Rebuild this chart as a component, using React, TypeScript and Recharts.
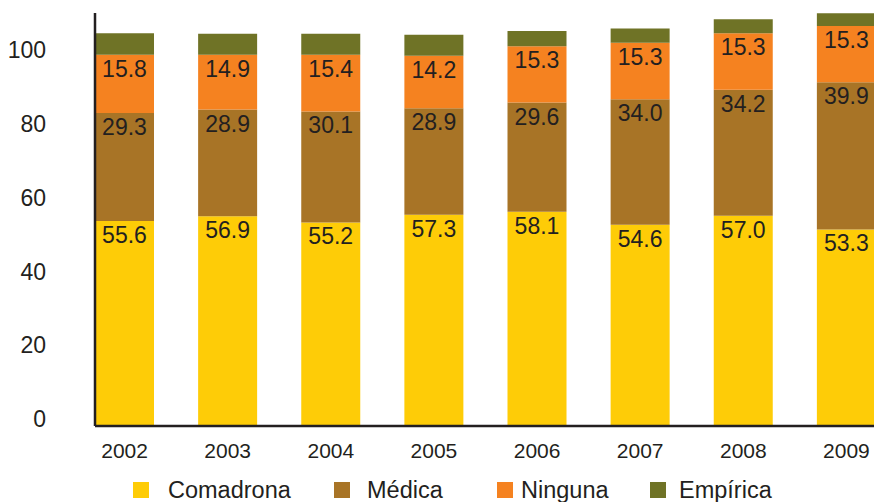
import React from 'react';
import { BarChart, Bar, XAxis, YAxis, Legend, LabelList } from 'recharts';

// Births by type of attendant, per year (%)
const years = ['2002', '2003', '2004', '2005', '2006', '2007', '2008', '2009'];
const comadrona = [55.6, 56.9, 55.2, 57.3, 58.1, 54.6, 57.0, 53.3];
const medica = [29.3, 28.9, 30.1, 28.9, 29.6, 34.0, 34.2, 39.9];
const ninguna = [15.8, 14.9, 15.4, 14.2, 15.3, 15.3, 15.3, 15.3];
const empirica = [5.8, 5.7, 5.7, 5.7, 4.1, 3.9, 3.8, 3.4];
const yTicks = [0, 20, 40, 60, 80, 100];
const seriesNames = ['Comadrona', 'Médica', 'Ninguna', 'Empírica'];

const data = years.map((year, i) => ({
  year,
  comadrona: comadrona[i],
  medica: medica[i],
  ninguna: ninguna[i],
  empirica: empirica[i],
}));

const FONT = '"Liberation Sans", Arial, Helvetica, sans-serif';
const TEXT = '#231f20';
const AXIS = '#231f20';
const COLORS = {
  comadrona: '#FECC07',
  medica: '#A87426',
  ninguna: '#F58220',
  empirica: '#6F7326',
};

// legend layout: square left edge and gap from square to text
const legendSquareX = [125, 326, 489, 642];
const legendTextGap = [35, 33, 24, 29];

const renderValue = (props: any) => {
  const { x, y, width, value } = props;
  if (value == null) return null;
  return (
    <text
      x={Number(x) + Number(width) / 2}
      y={Number(y) + 14}
      textAnchor="middle"
      dominantBaseline="central"
      fontSize={23}
      fontFamily={FONT}
      fill={TEXT}
    >
      {Number(value).toFixed(1)}
    </text>
  );
};

const YTick = (props: any) => {
  const { x, y, payload } = props;
  return (
    <text
      x={x}
      y={Number(y) - 7}
      textAnchor="end"
      dominantBaseline="central"
      fontSize={23}
      fontFamily={FONT}
      fill={TEXT}
    >
      {payload.value}
    </text>
  );
};

const XTick = (props: any) => {
  const { x, y, payload } = props;
  return (
    <text
      x={x}
      y={y}
      dy="0.71em"
      textAnchor="middle"
      fontSize={21}
      fontFamily={FONT}
      fill={TEXT}
    >
      {payload.value}
    </text>
  );
};

const LegendContent = (props: any) => {
  const payload = [...(props.payload || [])].sort(
    (a: any, b: any) => seriesNames.indexOf(a.value) - seriesNames.indexOf(b.value)
  );
  return (
    <div style={{ position: 'relative', width: 890, height: 28 }}>
      {payload.map((entry: any, i: number) => (
        <React.Fragment key={entry.value}>
          <div
            style={{
              position: 'absolute',
              left: legendSquareX[i],
              top: 8,
              width: 16,
              height: 16,
              background: entry.color,
            }}
          />
          <span
            style={{
              position: 'absolute',
              left: legendSquareX[i] + legendTextGap[i],
              top: 2,
              lineHeight: '28px',
              fontSize: 23.5,
              fontFamily: FONT,
              color: TEXT,
              whiteSpace: 'nowrap',
            }}
          >
            {entry.value}
          </span>
        </React.Fragment>
      ))}
    </div>
  );
};

export default function App() {
  return (
    <div
      style={{
        position: 'absolute',
        left: 8,
        top: 8,
        width: 866,
        height: 494,
        overflow: 'hidden',
      }}
    >
      <BarChart
        width={890}
        height={494}
        data={data}
        margin={{ top: 5, right: 0, bottom: 0, left: 0 }}
        barSize={59}
      >
        <XAxis
          dataKey="year"
          height={48}
          interval={0}
          padding={{ left: -22, right: 0 }}
          axisLine={{ stroke: AXIS, strokeWidth: 2.5 }}
          tickLine={false}
          tickSize={0}
          tickMargin={17}
          tick={<XTick />}
        />
        <YAxis
          width={87}
          domain={[0, 112]}
          ticks={yTicks}
          axisLine={{ stroke: AXIS, strokeWidth: 2.5 }}
          tickLine={false}
          tickSize={0}
          tickMargin={49}
          tick={<YTick />}
        />
        <Legend
          verticalAlign="bottom"
          content={<LegendContent />}
          wrapperStyle={{ left: 0, bottom: 0, width: 890, height: 28 }}
        />
        <Bar dataKey="comadrona" name="Comadrona" stackId="a" fill={COLORS.comadrona} isAnimationActive={false}>
          <LabelList dataKey="comadrona" content={renderValue} />
        </Bar>
        <Bar dataKey="medica" name="Médica" stackId="a" fill={COLORS.medica} isAnimationActive={false}>
          <LabelList dataKey="medica" content={renderValue} />
        </Bar>
        <Bar dataKey="ninguna" name="Ninguna" stackId="a" fill={COLORS.ninguna} isAnimationActive={false}>
          <LabelList dataKey="ninguna" content={renderValue} />
        </Bar>
        <Bar dataKey="empirica" name="Empírica" stackId="a" fill={COLORS.empirica} isAnimationActive={false} />
      </BarChart>
    </div>
  );
}
